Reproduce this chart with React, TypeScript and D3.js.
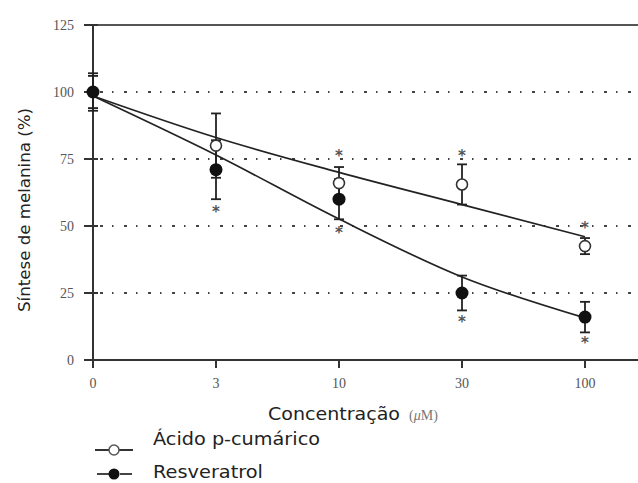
import React from "react";
import * as d3 from "d3";

const categories = ["0", "3", "10", "30", "100"];
const yTicks = [0, 25, 50, 75, 100, 125];
const gridValues = [25, 50, 75, 100];

const acidoMean = [100, 80, 66, 65.5, 42.5];
const acidoErr = [6, 12, 6, 7.5, 3];
const acidoFit = [98.5, 83, 70, 58, 46];
const acidoStars = [null, null, 77, 77, 50];

const resMean = [100, 71, 60, 25, 16];
const resErr = [7, 11, 7.5, 6.5, 5.7];
const resFit = [98.5, 76.5, 52.6, 31, 15.7];
const resStars = [null, 56, 48, 15, 7];

export default function App() {
  const W = 638, H = 483;
  const x = d3.scalePoint<string>().domain(categories).range([93, 585]);
  const y = d3.scaleLinear().domain([0, 125]).range([360, 25]);
  const line = d3
    .line<number>()
    .x((_, i) => x(categories[i]) as number)
    .y((d) => y(d))
    .curve(d3.curveMonotoneX);
  const axisColor = "#333";
  const tickFont = "'Liberation Serif', 'DejaVu Serif', serif";
  const sans = "'DejaVu Sans', Verdana, sans-serif";

  const errBars = (mean: number[], err: number[], key: string) =>
    mean.map((m, i) => {
      const cx = x(categories[i]) as number;
      return (
        <g key={key + i} stroke="#222" strokeWidth={1.8}>
          <line x1={cx} x2={cx} y1={y(m + err[i])} y2={y(m - err[i])} />
          <line x1={cx - 5} x2={cx + 5} y1={y(m + err[i])} y2={y(m + err[i])} />
          <line x1={cx - 5} x2={cx + 5} y1={y(m - err[i])} y2={y(m - err[i])} />
        </g>
      );
    });

  const stars = (vals: (number | null)[], key: string) =>
    vals.map((v, i) =>
      v == null ? null : (
        <text
          key={key + i}
          x={x(categories[i]) as number}
          y={y(v) + 7}
          textAnchor="middle"
          fontSize={15}
          fontFamily={sans}
          fontWeight="bold"
          fill="#555"
        >
          *
        </text>
      )
    );

  return (
    <svg width={W} height={H} style={{ position: "absolute", left: 0, top: 0, background: "#fff" }}>
      <rect width={W} height={H} fill="#fff" />
      {gridValues.map((g) => (
        <line
          key={"g" + g}
          x1={100}
          x2={W}
          y1={y(g)}
          y2={y(g)}
          stroke="#444"
          strokeWidth={2}
          strokeDasharray="3,9,1.5,10.5"
        />
      ))}
      <line x1={85} x2={W} y1={y(125)} y2={y(125)} stroke="#555" strokeWidth={2} />
      <line x1={93} x2={93} y1={y(125)} y2={367} stroke={axisColor} strokeWidth={2} />
      <line x1={85} x2={W} y1={y(0)} y2={y(0)} stroke={axisColor} strokeWidth={2} />
      {yTicks.map((t) => (
        <g key={"yt" + t}>
          <line x1={84} x2={98} y1={y(t)} y2={y(t)} stroke={axisColor} strokeWidth={2} />
          <text
            x={74}
            y={y(t) + 5}
            textAnchor="end"
            fontSize={14}
            fontFamily={tickFont}
            fill="#555"
          >
            {t}
          </text>
        </g>
      ))}
      {categories.map((c) => (
        <g key={"xt" + c}>
          <line x1={x(c) as number} x2={x(c) as number} y1={360} y2={368} stroke={axisColor} strokeWidth={2} />
          <text
            x={x(c) as number}
            y={388}
            textAnchor="middle"
            fontSize={14}
            fontFamily={tickFont}
            fill="#555"
          >
            {c}
          </text>
        </g>
      ))}
      <path d={line(acidoFit) || ""} fill="none" stroke="#222" strokeWidth={1.7} />
      <path d={line(resFit) || ""} fill="none" stroke="#222" strokeWidth={1.7} />
      {errBars(acidoMean, acidoErr, "ae")}
      {errBars(resMean, resErr, "re")}
      {resMean.map((m, i) => (
        <circle key={"rm" + i} cx={x(categories[i]) as number} cy={y(m)} r={6.5} fill="#111" />
      ))}
      {acidoMean.map((m, i) =>
        i === 0 ? null : (
          <circle
            key={"am" + i}
            cx={x(categories[i]) as number}
            cy={y(m)}
            r={5.5}
            fill="#fff"
            stroke="#333"
            strokeWidth={1.6}
          />
        )
      )}
      {stars(acidoStars, "as")}
      {stars(resStars, "rs")}
      <text
        transform={`translate(30,210) rotate(-90)`}
        textAnchor="middle"
        fontSize={16}
        fontFamily={sans}
        fill="#222"
        textLength={204}
        lengthAdjust="spacingAndGlyphs"
      >
        Síntese de melanina (%)
      </text>
      <text x={268} y={420} fontSize={17} fontFamily={sans} fill="#222" textLength={132} lengthAdjust="spacingAndGlyphs">
        Concentração
      </text>
      <text x={409} y={420} fontSize={14} fontFamily={tickFont} fill="#777">
        (<tspan fontStyle="italic">μ</tspan>M)
      </text>
      <line x1={95} x2={133} y1={450} y2={450} stroke="#333" strokeWidth={2} />
      <circle cx={114} cy={450} r={5} fill="#fff" stroke="#555" strokeWidth={1.5} />
      <text x={153} y={445} fontSize={17} fontFamily={sans} fill="#222" textLength={167} lengthAdjust="spacingAndGlyphs">
        Ácido p-cumárico
      </text>
      <line x1={97} x2={109} y1={474} y2={474} stroke="#444" strokeWidth={2} />
      <line x1={120} x2={132} y1={474} y2={474} stroke="#444" strokeWidth={2} />
      <circle cx={114} cy={474} r={5.5} fill="#111" />
      <text x={153} y={478} fontSize={17} fontFamily={sans} fill="#222" textLength={110} lengthAdjust="spacingAndGlyphs">
        Resveratrol
      </text>
    </svg>
  );
}
